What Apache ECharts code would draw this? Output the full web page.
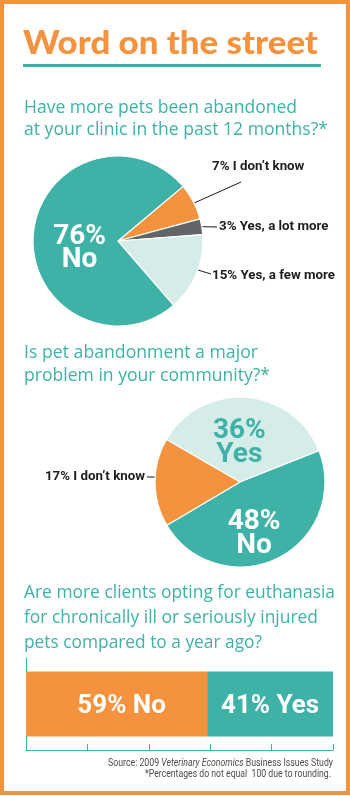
<!DOCTYPE html>
<html><head><meta charset="utf-8">
<script src="https://cdn.jsdelivr.net/npm/echarts@6/dist/echarts.min.js"></script>
<style>html,body{margin:0;padding:0;background:#fff}#c{width:350px;height:796px}</style>
</head><body><div id="c"></div>
<script>
const titleText = 'Word on the street';
const question1 = ['Have more pets been abandoned', 'at your clinic in the past 12 months?*'];
const question2 = ['Is pet abandonment a major', 'problem in your community?*'];
const question3 = ['Are more clients opting for euthanasia', 'for chronically ill or seriously injured', 'pets compared to a year ago?'];
const pie1Names = ['I don\u2019t know', 'Yes, a lot more', 'Yes, a few more', 'No'];
const pie1Values = [7, 3, 15, 76];
const pie2Names = ['Yes', 'No', 'I don\u2019t know'];
const pie2Values = [36, 48, 17];
const barCategory = ['Clients opting for euthanasia'];
const barNames = ['No', 'Yes'];
const barValues = [59, 41];
const sourceParts = ['Source: 2009 ', 'Veterinary Economics', ' Business Issues Study'];
const footnote = '*Percentages do not equal  100 due to rounding.';

const TEAL = '#3fb2a7', ORANGE = '#f5923d', GRAY = '#636467', LIGHT = '#d5ece8', INK = '#1f1c1d', NOTE = '#4d4d4f';
const QFONT = '"Open Sans", "Noto Sans", sans-serif';
const LFONT = 'Roboto, "Liberation Sans", sans-serif';

const P1 = {cx: 118, cy: 241, r: 85, start: 40};
const P2 = {cx: 240, cy: 482, r: 85, start: 150};

// text measuring for fitting lines to the reference widths
const mctx = document.createElement('canvas').getContext('2d');
function measure(text, font) { mctx.font = font; return mctx.measureText(text).width; }
function fitLine(text, font, x, y, width, color, align) {
  const w = measure(text, font);
  return {type: 'text', x: x, y: y, scaleX: width / w, silent: true,
    style: {text: text, x: 0, y: 0, font: font, fill: color, align: align || 'left', verticalAlign: 'middle'}};
}

function midAngles(values, start) {
  const total = values.reduce((a, b) => a + b, 0);
  let a = start;
  return values.map(v => { const s = v / total * 360; const m = a - s / 2; a -= s; return m; });
}
function polar(P, k, deg) {
  const t = deg * Math.PI / 180;
  return [P.cx + k * P.r * Math.cos(t), P.cy - k * P.r * Math.sin(t)];
}
const mid1 = midAngles(pie1Values, P1.start);
const mid2 = midAngles(pie2Values, P2.start);

// label placement styles (offsets relative to pie centre)
const pie1Place = [
  {lx: 94, ly: -74, k: 0.7, ex: 29, ey: 15},
  {lx: 101, ly: -14, k: 1.0, ex: -2, ey: 0},
  {lx: 94, ly: 35, k: 0.55, ex: -1, ey: -2},
  {dx: 7, dy: 11}
];
const pie2Place = [
  {dx: -4, dy: 6},
  {dx: -6, dy: 11},
  {lx: -95, ly: -5, k: 0.5, ex: 2, ey: 0, horiz: true}
];

function layoutFor(P, place, mids) {
  return function (params) {
    const s = place[params.dataIndex];
    if (s.lx === undefined) return {dx: s.dx, dy: s.dy};
    const x = P.cx + s.lx, y = P.cy + s.ly;
    const a = polar(P, s.k, mids[params.dataIndex]);
    if (s.horiz) a[1] = y;
    return {x: x, y: y, labelLinePoints: [a, [x + s.ex, y + s.ey]]};
  };
}

const outsideLabel = {
  show: true, position: 'outside', color: INK, fontFamily: LFONT, fontWeight: 'bold', fontSize: 13.3,
  verticalAlign: 'middle',
  formatter: p => p.value + '% ' + p.name
};
function insideLabel(color, lh) {
  return {
    show: true, position: 'inside', color: color, fontFamily: LFONT, fontWeight: 'bold', fontSize: 28,
    lineHeight: lh, align: 'center',
    formatter: p => p.value + '%\n' + p.name
  };
}
const lineStyle = {color: INK, width: 1};

const pie1Colors = [ORANGE, GRAY, LIGHT, TEAL];
const pie2Colors = [LIGHT, TEAL, ORANGE];

const QF = '18px ' + QFONT;
const graphics = [
  {type: 'rect', shape: {x: 2, y: 2, width: 346, height: 791}, style: {fill: 'none', stroke: ORANGE, lineWidth: 4}, silent: true},
  fitLine(titleText, '900 32px Lato, "Open Sans", sans-serif', 23, 44, 295, ORANGE),
  {type: 'line', shape: {x1: 23, y1: 65.5, x2: 321, y2: 65.5}, style: {stroke: TEAL, lineWidth: 3}, silent: true},
  fitLine(question1[0], QF, 24, 107.5, 273, TEAL),
  fitLine(question1[1], QF, 24, 129.5, 304, TEAL),
  fitLine(question2[0], QF, 24, 352.5, 234, TEAL),
  fitLine(question2[1], QF, 24, 375.5, 246, TEAL),
  fitLine(question3[0], QF, 24, 592.5, 311, TEAL),
  fitLine(question3[1], QF, 24, 617.5, 294, TEAL),
  fitLine(question3[2], QF, 24, 642.5, 238, TEAL),
  fitLine(footnote, '11px ' + LFONT, 331, 774.5, 186, NOTE, 'right')
];
// source line with italic title, condensed to reference width
(function () {
  const f = '11px ' + LFONT, fi = 'italic 11px ' + LFONT;
  const w = measure(sourceParts[0], f) + measure(sourceParts[1], fi) + measure(sourceParts[2], f);
  graphics.push({type: 'text', x: 333, y: 763, scaleX: 225 / w, silent: true, style: {
    text: '{a|' + sourceParts[0] + '}{b|' + sourceParts[1] + '}{a|' + sourceParts[2] + '}',
    x: 0, y: 0, align: 'right', verticalAlign: 'middle',
    rich: {a: {font: f, fill: NOTE}, b: {font: fi, fill: NOTE}}
  }});
})();

const chart = echarts.init(document.getElementById('c'), null, {renderer: 'canvas'});
chart.setOption({
  animation: false,
  backgroundColor: '#fff',
  graphic: graphics,
  grid: {left: 26, right: 17, top: 658, height: 92},
  xAxis: {
    type: 'value', min: 0, max: 100, interval: 20,
    axisLine: {show: true, lineStyle: {color: TEAL, width: 1}},
    axisTick: {show: true, inside: true, length: 6, lineStyle: {color: TEAL}},
    axisLabel: {show: false}, splitLine: {show: false}
  },
  yAxis: {
    type: 'category', data: barCategory,
    axisLine: {show: true, lineStyle: {color: TEAL, width: 1}},
    axisTick: {show: false}, axisLabel: {show: false}, splitLine: {show: false}
  },
  series: [
    {
      type: 'pie', center: [P1.cx, P1.cy], radius: P1.r, startAngle: P1.start, clockwise: true,
      avoidLabelOverlap: false, silent: true,
      itemStyle: {borderColor: '#fff', borderWidth: 1.2},
      labelLine: {show: true, length: 5, length2: 5, smooth: false, lineStyle: lineStyle},
      labelLayout: layoutFor(P1, pie1Place, mid1),
      data: pie1Values.map((v, i) => ({
        value: v, name: pie1Names[i], itemStyle: {color: pie1Colors[i]},
        label: i === 3 ? insideLabel('#fff', 23) : outsideLabel,
        labelLine: {show: i !== 3, lineStyle: lineStyle}
      }))
    },
    {
      type: 'pie', center: [P2.cx, P2.cy], radius: P2.r, startAngle: P2.start, clockwise: true,
      avoidLabelOverlap: false, silent: true,
      itemStyle: {borderColor: '#fff', borderWidth: 1.2},
      labelLine: {show: true, length: 5, length2: 5, smooth: false, lineStyle: lineStyle},
      labelLayout: layoutFor(P2, pie2Place, mid2),
      data: pie2Values.map((v, i) => ({
        value: v, name: pie2Names[i], itemStyle: {color: pie2Colors[i]},
        label: i === 2 ? outsideLabel : insideLabel(i === 0 ? TEAL : '#fff', 24),
        labelLine: {show: i === 2, lineStyle: lineStyle}
      }))
    },
    {
      type: 'bar', name: barNames[0], stack: 'q3', barWidth: 65, silent: true,
      itemStyle: {color: ORANGE},
      label: {show: true, position: 'inside', offset: [5, 2], color: '#fff', fontFamily: LFONT, fontWeight: 'bold', fontSize: 26, formatter: p => p.value + '% ' + barNames[0]},
      data: [barValues[0]]
    },
    {
      type: 'bar', name: barNames[1], stack: 'q3', barWidth: 65, silent: true,
      itemStyle: {color: TEAL},
      label: {show: true, position: 'inside', offset: [0, 2], color: '#fff', fontFamily: LFONT, fontWeight: 'bold', fontSize: 26, formatter: p => p.value + '% ' + barNames[1]},
      data: [barValues[1]]
    }
  ]
});
</script>
</body></html>
